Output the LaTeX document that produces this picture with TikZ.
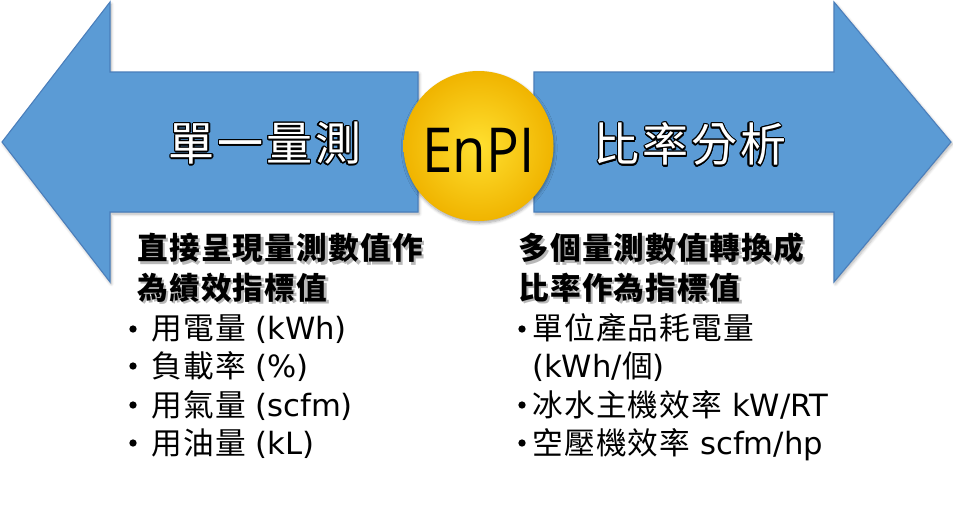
\documentclass[tikz,border=0pt]{standalone}
\usepackage{fontspec}
\setmainfont{DejaVu Sans}
\newfontfamily\cjk[LetterSpace=4]{Noto Sans CJK TC}
\newfontfamily\cjktitle[LetterSpace=6]{Noto Sans CJK TC}
\newfontfamily\enfont{Open Sans}
\usepackage{contour}
\contourlength{0.9pt}
\usetikzlibrary{shadows.blur}
\definecolor{arrowblue}{HTML}{5B9BD5}
\definecolor{arrowedge}{HTML}{4A7EBB}
\definecolor{ballin}{HTML}{FFE030}
\definecolor{ballout}{HTML}{F0B400}
\tikzset{
  arrowshape/.style={fill=arrowblue, draw=arrowedge, line width=0.8pt,
    blur shadow={shadow xshift=1pt, shadow yshift=-1.5pt, shadow blur steps=6, shadow opacity=30}},
  ball/.style={circle, minimum size=112.5pt, inner sep=0pt, inner color=ballin, outer color=ballout,
    blur shadow={shadow xshift=0.5pt, shadow yshift=-1.5pt, shadow blur steps=6, shadow opacity=35}},
  titletext/.style={inner sep=0pt, text=white, font=\fontsize{34.5}{40}\cjktitle},
  enpitext/.style={anchor=base, inner sep=0pt, font=\fontsize{46.5}{50}\enfont},
  body/.style={anchor=base west, inner sep=0pt, font=\fontsize{23}{27}\selectfont},
  hd/.style={body, font=\fontsize{23}{27}\cjk\bfseries},
  hdshadow/.style={hd, text=black!28},
  bulletdot/.style={circle, fill=black, inner sep=0pt, minimum size=5.5pt},
}
\begin{document}
\begin{tikzpicture}[x=0.75pt, y=-0.75pt]
\useasboundingbox (0,0) rectangle (953,515);
% arrows
\path[arrowshape] (2,142) -- (110,2) -- (110,72) -- (418,72) -- (418,212) -- (110,212) -- (110,282) -- cycle;
\path[arrowshape] (951,142) -- (834,2) -- (834,72) -- (534,72) -- (534,212) -- (834,212) -- (834,282) -- cycle;
% centre ball
\node[ball] (ballnode) at (478.5,146) {};
\node[enpitext] (enpi) at (478.5,172) {\scalebox{0.88}[1]{EnPI}};
% titles
\node[titletext] (lefttitle) at (265,144) {\contour{black}{單一量測}};
\node[titletext] (righttitle) at (690,145) {\contour{black}{比率分析}};
% left column
\node[hdshadow] (l1s) at (139.5,262) {直接呈現量測數值作};
\node[hd] (l1) at (137,259.5) {直接呈現量測數值作};
\node[hdshadow] (l2s) at (139.5,301.5) {為績效指標值};
\node[hd] (l2) at (137,299) {為績效指標值};
\node[bulletdot] (lb1) at (133,329) {};
\node[body] (l3) at (151,339.5) {{\cjk 用電量} (kWh)};
\node[bulletdot] (lb2) at (133,366) {};
\node[body] (l4) at (151,377.5) {{\cjk 負載率} (\%)};
\node[bulletdot] (lb3) at (133,405) {};
\node[body] (l5) at (151,416.5) {{\cjk 用氣量} (scfm)};
\node[bulletdot] (lb4) at (133,443) {};
\node[body] (l6) at (151,454.5) {{\cjk 用油量} (kL)};
% right column
\node[hdshadow] (r1s) at (520.5,262) {多個量測數值轉換成};
\node[hd] (r1) at (518,259.5) {多個量測數值轉換成};
\node[hdshadow] (r2s) at (520.5,301.5) {比率作為指標值};
\node[hd] (r2) at (518,299) {比率作為指標值};
\node[bulletdot] (rb1) at (522,329) {};
\node[body] (r3) at (532,339.5) {{\cjk 單位產品耗電量}};
\node[body] (r4) at (532,377.5) {(kWh/{\cjk 個})};
\node[bulletdot] (rb2) at (522,405) {};
\node[body] (r5) at (532,416.5) {{\cjk 冰水主機效率} kW/RT};
\node[bulletdot] (rb3) at (522,443) {};
\node[body] (r6) at (532,454.5) {{\cjk 空壓機效率} scfm/hp};
\end{tikzpicture}
\end{document}
